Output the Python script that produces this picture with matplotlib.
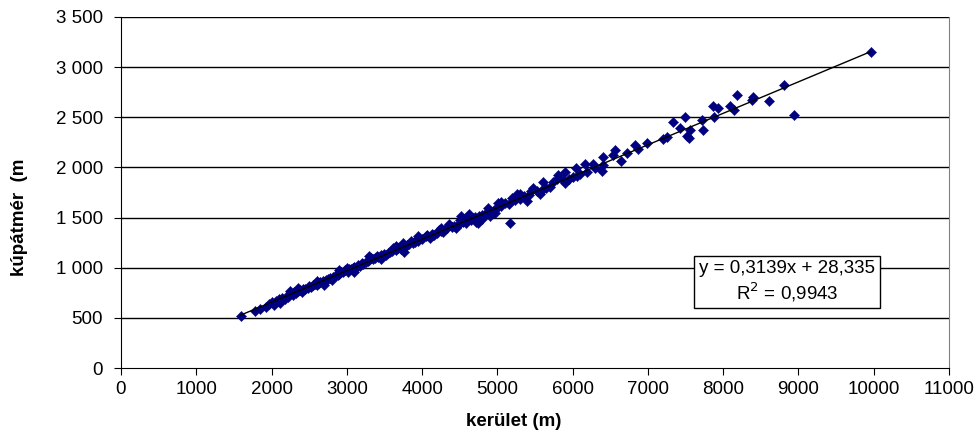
import numpy as np
import matplotlib.pyplot as plt
from matplotlib.ticker import FuncFormatter

# ── Data ─────────────────────────────────────────────────────────────────────
kerulet = [
    1590, 1780, 1850, 1920, 1960, 2000, 2030, 2060, 2100, 2110, 2140, 2180,
    2200, 2220, 2250, 2280, 2300, 2320, 2350, 2380, 2400, 2420, 2450, 2480,
    2500, 2520, 2550, 2580, 2600, 2630, 2650, 2680, 2700, 2720, 2750, 2780,
    2800, 2820, 2850, 2880, 2900, 2920, 2950, 2980, 3000, 3010, 3030, 3060,
    3080, 3100, 3120, 3150, 3170, 3200, 3220, 3250, 3280, 3300, 3320, 3350,
    3380, 3400, 3420, 3450, 3480, 3500, 3520, 3550, 3580, 3600, 3620, 3650,
    3680, 3700, 3720, 3750, 3760, 3780, 3800, 3830, 3850, 3880, 3900, 3930,
    3950, 4000, 4050, 4070, 4100, 4130, 4160, 4200, 4230, 4250, 4280, 4300,
    4330, 4360, 4400, 4430, 4450, 4480, 4500, 4520, 4550, 4580, 4600, 4620,
    4650, 4680, 4700, 4720, 4740, 4760, 4800, 4850, 4870, 4900, 4950, 4970,
    5000, 5010, 5050, 5100, 5150, 5170, 5200, 5230, 5260, 5300, 5350, 5390,
    5420, 5470, 5520, 5560, 5600, 5650, 5700, 5740, 5790, 5800, 5870, 5900,
    5900, 5950, 6000, 6050, 6060, 6100, 6160, 6190, 6270, 6300, 6390, 6400,
    6400, 6530, 6560, 6640, 6720, 6830, 6870, 6990, 7200, 7250, 7330, 7420,
    7490, 7520, 7540, 7560, 7730, 7720, 7860, 7880, 7930, 8090, 8150, 8190,
    8380, 8390, 8610, 8810, 8940, 9960,
    2350, 2600, 2700, 2900, 3100, 3300, 3450, 3650, 3950, 4250, 4500, 4800,
    5050, 5300, 5600, 2250, 4150, 4620, 4900, 5450,
]
kupatmer = [
    520, 570, 590, 610, 640, 655, 630, 670, 690, 645, 700, 690,
    720, 705, 740, 730, 760, 745, 770, 775, 760, 790, 790, 800,
    815, 805, 830, 840, 825, 850, 860, 870, 855, 880, 890, 900,
    880, 910, 925, 930, 940, 955, 960, 975, 1000, 960, 985, 990,
    1000, 1010, 995, 1030, 1015, 1050, 1040, 1060, 1070, 1075, 1095, 1090,
    1100, 1120, 1105, 1130, 1120, 1140, 1130, 1150, 1155, 1170, 1195, 1175,
    1200, 1210, 1190, 1245, 1160, 1220, 1230, 1240, 1270, 1250, 1260, 1290,
    1270, 1290, 1320, 1330, 1300, 1340, 1330, 1350, 1380, 1370, 1360, 1385,
    1400, 1440, 1410, 1420, 1400, 1430, 1450, 1520, 1460, 1445, 1490, 1540,
    1480, 1500, 1510, 1460, 1450, 1520, 1530, 1550, 1600, 1560, 1580, 1550,
    1600, 1650, 1620, 1650, 1640, 1450, 1700, 1680, 1740, 1690, 1720, 1670,
    1730, 1790, 1760, 1740, 1850, 1790, 1800, 1850, 1880, 1920, 1870, 1950,
    1840, 1880, 1900, 1990, 1915, 1930, 2030, 1950, 2030, 1990, 1960, 2100,
    2020, 2120, 2170, 2060, 2140, 2220, 2180, 2240, 2280, 2300, 2450, 2390,
    2500, 2310, 2290, 2370, 2370, 2470, 2610, 2500, 2590, 2610, 2570, 2720,
    2670, 2700, 2660, 2820, 2520, 3150,
    800, 870, 830, 980, 960, 1120, 1090, 1220, 1320, 1400, 1480, 1490,
    1660, 1740, 1780, 765, 1330, 1500, 1520, 1760,
]

# trendline as printed on the chart
slope, intercept = 0.3139, 28.335
r2 = 0.9943

y_ticks = [0, 500, 1000, 1500, 2000, 2500, 3000, 3500]
x_ticks = list(range(0, 11001, 1000))

# ── Figure ───────────────────────────────────────────────────────────────────
plt.rcParams['font.family'] = ['Liberation Sans', 'DejaVu Sans']
FS = 13.5

fig = plt.figure(figsize=(9.77, 4.36), dpi=100)
ax = fig.add_axes([121 / 977, 1 - 368 / 436, (949 - 121) / 977, (368 - 17) / 436])

ax.set_xlim(0, 11000)
ax.set_ylim(0, 3500)

for yv in y_ticks[1:]:
    ax.axhline(yv, color='black', lw=1.0, zorder=1)

ax.scatter(kerulet, kupatmer, marker='D', s=27, color='#000080',
           edgecolors='#000080', linewidths=0.3, zorder=3)

xs = np.array([min(kerulet), max(kerulet)])
ax.plot(xs, slope * xs + intercept, color='black', lw=1.0, zorder=4)

# spines
ax.spines['top'].set_visible(False)
ax.spines['right'].set_color('#808080')
ax.spines['left'].set_color('black')
ax.spines['bottom'].set_color('black')

ax.set_xticks(x_ticks)
ax.set_yticks(y_ticks)
ax.yaxis.set_major_formatter(FuncFormatter(lambda v, p: f'{int(v):,}'.replace(',', ' ')))
ax.tick_params(axis='y', direction='out', length=5, pad=8, labelsize=FS)
ax.tick_params(axis='x', direction='out', length=5, pad=4, labelsize=FS)

# equation box
eq = 'y = 0,3139x + 28,335\nR$^2$ = 0,9943'
ax.text((787 - 121) / 828, (368 - 282) / 351, eq, transform=ax.transAxes,
        ha='center', va='center', fontsize=FS, linespacing=1.15, zorder=6,
        bbox=dict(boxstyle='square,pad=0.25', facecolor='white',
                  edgecolor='black', linewidth=1.0))

# axis titles
fig.text(514 / 977, 1 - 421 / 436, 'kerület (m)', ha='center', va='center',
         fontsize=FS, fontweight='bold')
fig.text(20 / 977, 1 - 217 / 436, 'kúpátmér  (m', ha='center', va='center',
         rotation=90, fontsize=FS, fontweight='bold')

fig.savefig('out.png', dpi=100, facecolor='white')
plt.close(fig)
